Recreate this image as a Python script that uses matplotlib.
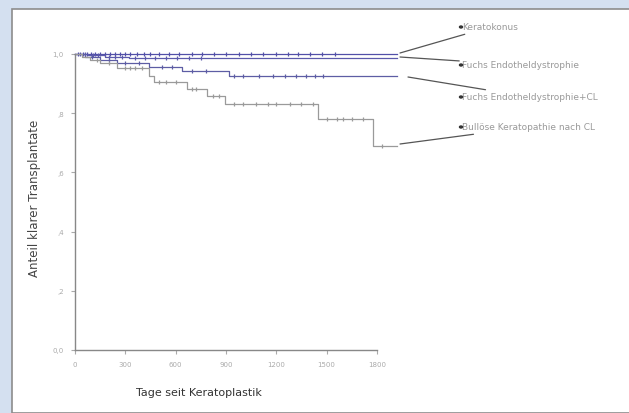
import matplotlib.pyplot as plt
from matplotlib.patches import Rectangle

# Kaplan-Meier step data (days, proportion of clear grafts)
groups = ["Keratokonus", "Fuchs Endotheldystrophie",
          "Fuchs Endotheldystrophie+CL", "Bullöse Keratopathie nach CL"]

kk_t = [0, 1920]
kk_s = [1.0, 1.0]
kk_cens = [20, 45, 70, 95, 120, 150, 180, 210, 240, 270, 300, 330, 370, 410, 450, 500,
           560, 620, 700, 760, 830, 900, 980, 1050, 1120, 1200, 1270, 1330, 1400, 1470, 1550]

fu_t = [0, 80, 180, 320, 1920]
fu_s = [1.0, 0.995, 0.99, 0.985, 0.985]
fu_cens = [30, 60, 110, 140, 200, 240, 280, 360, 420, 480, 540, 610, 680, 750]

fcl_t = [0, 60, 150, 250, 440, 640, 920, 1920]
fcl_s = [1.0, 0.99, 0.98, 0.97, 0.956, 0.943, 0.926, 0.926]
fcl_cens = [100, 200, 300, 380, 520, 580, 700, 780, 950, 1000, 1100, 1180, 1250,
            1320, 1380, 1430, 1480]

bk_t = [0, 40, 90, 150, 250, 440, 470, 665, 785, 895, 1450, 1775, 1920]
bk_s = [1.0, 0.99, 0.98, 0.968, 0.953, 0.926, 0.905, 0.882, 0.858, 0.831, 0.78, 0.689, 0.689]
bk_cens = [130, 200, 300, 330, 360, 400, 500, 540, 600, 700, 720, 820, 860, 950, 1000,
           1080, 1150, 1200, 1280, 1350, 1420, 1500, 1560, 1600, 1650, 1720, 1830]

x_ticks = [0, 300, 600, 900, 1200, 1500, 1800]
y_ticks = [0.0, 0.2, 0.4, 0.6, 0.8, 1.0]
y_ticklabels = ["0,0", ",2", ",4", ",6", ",8", "1,0"]


def surv_at(t, ts, ss):
    val = ss[0]
    for ti, si in zip(ts, ss):
        if ti <= t:
            val = si
    return val


W, H = 629, 414
fig = plt.figure(figsize=(W / 100, H / 100), dpi=100)
fig.patch.set_facecolor("#d4e0f0")
fig.patches.append(Rectangle((12 / W, 0), 1, 1 - 10 / H, transform=fig.transFigure,
                             facecolor="white", edgecolor="#8c8c8c", lw=1.2, zorder=-5))

ax = fig.add_axes([75 / W, 1 - 351 / H, 327 / W, 296 / H])
ax.set_facecolor("none")

series = [(kk_t, kk_s, kk_cens, "#5250a8"),
          (fu_t, fu_s, fu_cens, "#5c5aac"),
          (fcl_t, fcl_s, fcl_cens, "#5d5da4"),
          (bk_t, bk_s, bk_cens, "#9a9a9a")]

for ts, ss, cens, col in series:
    ax.step(ts, ss, where="post", color=col, lw=0.9, clip_on=False)
    ax.plot(cens, [surv_at(c, ts, ss) for c in cens], "|", color=col,
            ms=3, mew=0.9, clip_on=False)

ax.set_xlim(0, 1950)
ax.set_ylim(0, 1.0)
for s in ["top", "right"]:
    ax.spines[s].set_visible(False)
ax.spines["bottom"].set_bounds(0, 1800)
for s in ["left", "bottom"]:
    ax.spines[s].set_color("#888888")
    ax.spines[s].set_linewidth(1.0)
ax.set_xticks(x_ticks)
ax.set_yticks(y_ticks)
ax.set_yticklabels(y_ticklabels)
ax.tick_params(labelsize=5, colors="#aaaaaa", length=3, width=0.8, pad=5)

fig.text(199 / W, 1 - 393 / H, "Tage seit Keratoplastik", fontsize=8,
         color="#333333", ha="center", va="center")
fig.text(35 / W, 1 - 198 / H, "Anteil klarer Transplantate", fontsize=8.5,
         color="#444444", ha="center", va="center", rotation=90)

# labels with pointer lines
label_y = [28, 66, 98, 128]
start_px = [(400, 54), (400, 58), (408, 78), (400, 145)]
for name, ly, (sx, sy) in zip(groups, label_y, start_px):
    ax.annotate(name, xy=(sx / W, 1 - sy / H), xycoords="figure fraction",
                xytext=(462 / W, 1 - ly / H), textcoords="figure fraction",
                fontsize=6.5, color="#999999", va="center", ha="left",
                arrowprops=dict(arrowstyle="-", color="#555555", lw=0.9,
                                shrinkA=0, shrinkB=0))
    fig.patches.append(plt.Circle((461 / W, 1 - ly / H), 1.5 / W,
                                  transform=fig.transFigure, color="#333333"))

fig.savefig("out.png", dpi=100)
